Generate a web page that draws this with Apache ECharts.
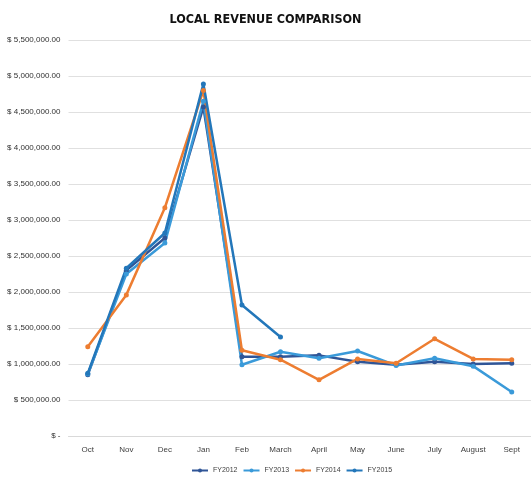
<!DOCTYPE html>
<html>
<head>
<meta charset="utf-8">
<script src="https://cdn.jsdelivr.net/npm/echarts@6/dist/echarts.min.js"></script>
<style>
  html, body { margin: 0; padding: 0; background: #fff; }
  #chart { width: 531px; height: 477px; }
</style>
</head>
<body>
<div id="chart"></div>
<script>
// months of the fiscal year
const months = ['Oct', 'Nov', 'Dec', 'Jan', 'Feb', 'March', 'April', 'May', 'June', 'July', 'August', 'Sept'];
const seriesNames = ['FY2012', 'FY2013', 'FY2014', 'FY2015'];

// values
const fy2012 = [850000, 2300000, 2750000, 4570000, 1100000, 1100000, 1120000, 1030000, 990000, 1030000, 1000000, 1010000];
const fy2013 = [860000, 2250000, 2680000, 4650000, 990000, 1170000, 1080000, 1180000, 980000, 1080000, 970000, 610000];
const fy2014 = [1240000, 1960000, 3170000, 4800000, 1190000, 1060000, 780000, 1070000, 1010000, 1350000, 1070000, 1060000];
const fy2015 = [870000, 2330000, 2820000, 4890000, 1820000, 1375000, null, null, null, null, null, null];

const yMax = 5500000;
const yStep = 500000;

const colors = ['#2F5597', '#3A9AD9', '#ED7D31', '#2377BA'];

const chart = echarts.init(document.getElementById('chart'));

// accounting style labels, zero shown as a dash
function yLabel(v) {
  if (v === 0) return '$ -';
  return '$ ' + v.toLocaleString('en-US', { minimumFractionDigits: 2, maximumFractionDigits: 2 });
}

const allData = [fy2012, fy2013, fy2014, fy2015];

chart.setOption({
  backgroundColor: '#fff',
  color: colors,
  title: {
    text: 'LOCAL REVENUE COMPARISON',
    left: 'center',
    top: 8,
    textStyle: {
      fontFamily: '"Liberation Sans Narrow", "DejaVu Sans Condensed", sans-serif',
      fontSize: 12.5,
      fontWeight: 'bold',
      color: '#111'
    }
  },
  grid: {
    top: 40,
    bottom: 41,
    left: 68.5,
    right: -5.5
  },
  legend: {
    data: seriesNames,
    bottom: -2,
    left: 186,
    itemWidth: 16,
    itemHeight: 5,
    itemGap: 5,
    textStyle: { fontSize: 7, color: '#404040' }
  },
  xAxis: {
    type: 'category',
    data: months,
    boundaryGap: true,
    axisLine: { lineStyle: { color: '#d9d9d9' } },
    axisTick: { show: false },
    axisLabel: { fontSize: 8, color: '#404040', margin: 10, interval: 0 }
  },
  yAxis: {
    type: 'value',
    min: 0,
    max: yMax,
    interval: yStep,
    axisLine: { show: false },
    axisTick: { show: false },
    axisLabel: { fontSize: 8, color: '#303030', margin: 8, formatter: yLabel },
    splitLine: { lineStyle: { color: '#e0e0e0' } }
  },
  series: seriesNames.map((name, i) => ({
    name: name,
    type: 'line',
    data: allData[i],
    symbol: 'circle',
    symbolSize: 5,
    lineStyle: { width: 2.5 },
    connectNulls: false
  }))
});
</script>
</body>
</html>
